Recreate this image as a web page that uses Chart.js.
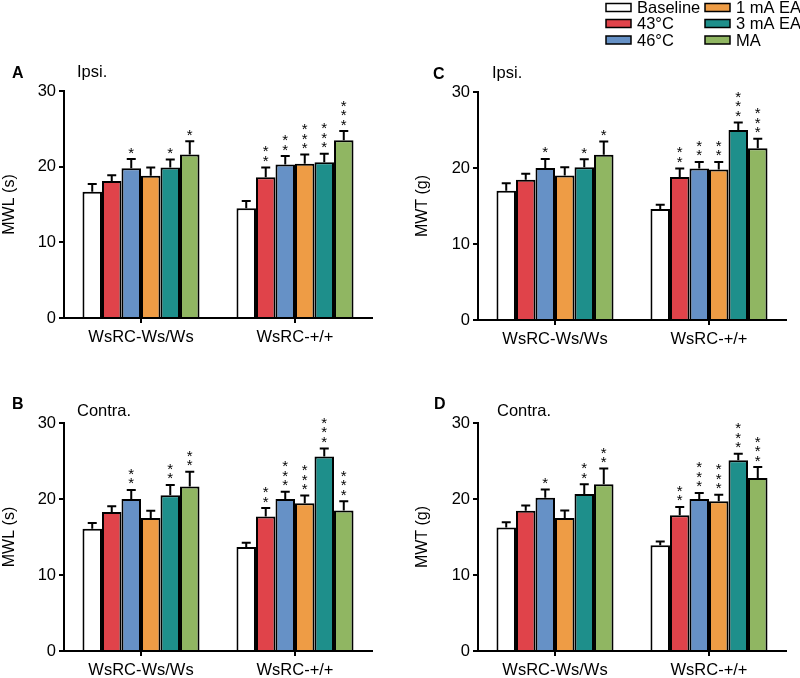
<!DOCTYPE html>
<html>
<head>
<meta charset="utf-8">
<script src="https://cdn.jsdelivr.net/npm/chart.js@4.4.1/dist/chart.umd.min.js"></script>
<style>
  body { margin: 0; background: #fff; width: 800px; height: 678px; position: relative; overflow: hidden; }
  canvas { position: absolute; }
</style>
</head>
<body>
<canvas id="chartA" width="400" height="345" style="left:0;top:0"></canvas>
<canvas id="chartC" width="400" height="345" style="left:400px;top:0"></canvas>
<canvas id="chartB" width="400" height="333" style="left:0;top:345px"></canvas>
<canvas id="chartD" width="400" height="333" style="left:400px;top:345px"></canvas>
<script>
// groups on the x axis
var categories = ['WsRC-Ws/Ws', 'WsRC-+/+'];
var seriesNames = ['Baseline', '43°C', '46°C', '1 mA EA', '3 mA EA', 'MA'];
var seriesColors = ['#ffffff', '#e0434a', '#6691c6', '#ee9c45', '#1e8f8b', '#90b662'];
var yTicks = [0, 10, 20, 30];

// values are [series][group]
// A - MWL ipsi
var mwlIpsi    = [[16.7, 14.5], [18.1, 18.6], [19.8, 20.3], [18.8, 20.4], [19.9, 20.6], [21.6, 23.5]];
var mwlIpsiErr = [[1.0, 0.95], [0.75, 1.3], [1.2, 1.1], [1.1, 1.2], [1.05, 1.1], [1.75, 1.2]];
var mwlIpsiSig = [[0, 0], [0, 2], [1, 2], [0, 3], [1, 3], [1, 3]];
// B - MWL contra
var mwlContra    = [[16.1, 13.7], [18.3, 17.7], [20.0, 20.0], [17.5, 19.45], [20.5, 25.6], [21.65, 18.5]];
var mwlContraErr = [[0.75, 0.55], [0.75, 1.1], [1.2, 0.95], [0.95, 1.0], [1.35, 1.05], [1.95, 1.2]];
var mwlContraSig = [[0, 0], [0, 2], [2, 3], [0, 3], [2, 3], [2, 3]];
// C - MWT ipsi
var mwtIpsi    = [[17.0, 14.6], [18.45, 18.8], [20.0, 19.95], [19.0, 19.8], [20.1, 25.0], [21.75, 22.6]];
var mwtIpsiErr = [[1.0, 0.55], [0.8, 1.15], [1.2, 0.85], [1.1, 1.0], [1.05, 1.0], [1.75, 1.25]];
var mwtIpsiSig = [[0, 0], [0, 2], [1, 2], [0, 2], [1, 3], [1, 3]];
// D - MWT contra
var mwtContra    = [[16.25, 13.9], [18.45, 17.85], [20.15, 20.0], [17.5, 19.7], [20.65, 25.1], [21.95, 22.75]];
var mwtContraErr = [[0.7, 0.5], [0.7, 1.1], [1.1, 0.8], [1.0, 0.87], [1.3, 0.85], [2.05, 1.45]];
var mwtContraSig = [[0, 0], [0, 2], [1, 3], [0, 3], [2, 3], [2, 3]];

var FONT = '"Liberation Sans", Arial, Helvetica, sans-serif';

// error bars (upper only) + significance stars
var errStars = {
  id: 'errStars',
  afterDatasetsDraw: function(chart) {
    var ctx = chart.ctx;
    var ys = chart.scales.y;
    ctx.save();
    chart.data.datasets.forEach(function(ds, i) {
      var meta = chart.getDatasetMeta(i);
      meta.data.forEach(function(bar, j) {
        var top = ys.getPixelForValue(ds.data[j] + ds.err[j]);
        ctx.strokeStyle = '#000';
        ctx.lineWidth = 2;
        ctx.beginPath();
        ctx.moveTo(bar.x, bar.y);
        ctx.lineTo(bar.x, top);
        ctx.moveTo(bar.x - 4.5, top);
        ctx.lineTo(bar.x + 4.5, top);
        ctx.stroke();
        ctx.fillStyle = '#000';
        ctx.font = '15px ' + FONT;
        ctx.textAlign = 'center';
        ctx.textBaseline = 'alphabetic';
        for (var k = 0; k < ds.sig[j]; k++) {
          var cy = top - 10 - k * 9.5;
          ctx.fillText('*', bar.x, cy + 8.5);
        }
      });
    });
    ctx.restore();
  }
};

// panel letter and side label
function panelText(letter, lx, ly, side, sx, sy) {
  return {
    id: 'panelText' + letter,
    afterDraw: function(chart) {
      var ctx = chart.ctx;
      ctx.save();
      ctx.fillStyle = '#000';
      ctx.textBaseline = 'middle';
      ctx.textAlign = 'left';
      ctx.font = 'bold 16px ' + FONT;
      ctx.fillText(letter, lx, ly);
      ctx.font = '16.5px ' + FONT;
      ctx.fillText(side, sx, sy);
      ctx.restore();
    }
  };
}

// legend drawn in the top of panel C's canvas
var legendBox = {
  id: 'legendBox',
  afterDraw: function(chart) {
    var ctx = chart.ctx;
    var cols = [[206, 237], [305, 336]];
    var rowsY = [7.5, 23.5, 40];
    ctx.save();
    ctx.textBaseline = 'middle';
    ctx.textAlign = 'left';
    ctx.font = '16.5px ' + FONT;
    for (var i = 0; i < seriesNames.length; i++) {
      var c = cols[Math.floor(i / 3)], ry = rowsY[i % 3];
      ctx.fillStyle = seriesColors[i];
      ctx.fillRect(c[0], ry - 4, 25, 8);
      ctx.strokeStyle = '#000';
      ctx.lineWidth = 1.5;
      ctx.strokeRect(c[0], ry - 4, 25, 8);
      ctx.fillStyle = '#000';
      ctx.fillText(seriesNames[i], c[1], ry + 1);
    }
    ctx.restore();
  }
};

function makePanel(id, vals, errs, sigs, yTitle, area, extra) {
  var cv = document.getElementById(id);
  var W = cv.width, H = cv.height;
  var datasets = [];
  for (var i = 0; i < seriesNames.length; i++) {
    datasets.push({
      label: seriesNames[i],
      data: vals[i],
      err: errs[i],
      sig: sigs[i],
      backgroundColor: seriesColors[i],
      borderColor: '#000',
      borderWidth: 2,
      categoryPercentage: 0.76,
      barPercentage: 1.0
    });
  }
  return new Chart(cv.getContext('2d'), {
    type: 'bar',
    data: { labels: categories, datasets: datasets },
    options: {
      responsive: false,
      animation: false,
      layout: { padding: { top: area.top, right: W - area.right, bottom: 0, left: 0 } },
      plugins: {
        legend: { display: false },
        tooltip: { enabled: false }
      },
      scales: {
        x: {
          offset: true,
          grid: { display: true, drawOnChartArea: false, offset: false, tickLength: 5, color: '#000', lineWidth: 2 },
          border: { display: true, color: '#000', width: 2 },
          ticks: { color: '#000', font: { family: FONT, size: 16.5 }, padding: 5 },
          afterFit: function(s) { s.height = H - area.bottom; s.paddingLeft = 0; s.paddingRight = 0; }
        },
        y: {
          min: 0, max: 30,
          afterBuildTicks: function(s) { s.ticks = yTicks.map(function(v) { return { value: v }; }); },
          grid: { display: true, drawOnChartArea: false, tickLength: 5, color: '#000', lineWidth: 2 },
          border: { display: true, color: '#000', width: 2 },
          ticks: { color: '#000', font: { family: FONT, size: 16.5 }, padding: 3 },
          title: { display: true, text: yTitle, color: '#000', font: { family: FONT, size: 16 }, padding: { top: area.tp, bottom: 0 } },
          afterFit: function(s) { s.width = area.left; s.paddingTop = 0; s.paddingBottom = 0; }
        }
      }
    },
    plugins: [errStars].concat(extra)
  });
}

makePanel('chartA', mwlIpsi, mwlIpsiErr, mwlIpsiSig, 'MWL (s)',
  { left: 64, top: 91, right: 372, bottom: 318, tp: 0 },
  [panelText('A', 12, 74, 'Ipsi.', 77, 72.5)]);
makePanel('chartC', mwtIpsi, mwtIpsiErr, mwtIpsiSig, 'MWT (g)',
  { left: 78, top: 92, right: 386, bottom: 320, tp: 13 },
  [panelText('C', 33, 75, 'Ipsi.', 92, 73), legendBox]);
makePanel('chartB', mwlContra, mwlContraErr, mwlContraSig, 'MWL (s)',
  { left: 64, top: 78, right: 372, bottom: 306, tp: 0 },
  [panelText('B', 12, 60, 'Contra.', 77, 66)]);
makePanel('chartD', mwtContra, mwtContraErr, mwtContraSig, 'MWT (g)',
  { left: 78, top: 78, right: 386, bottom: 306, tp: 13 },
  [panelText('D', 34, 60, 'Contra.', 97, 66)]);
</script>
</body>
</html>
